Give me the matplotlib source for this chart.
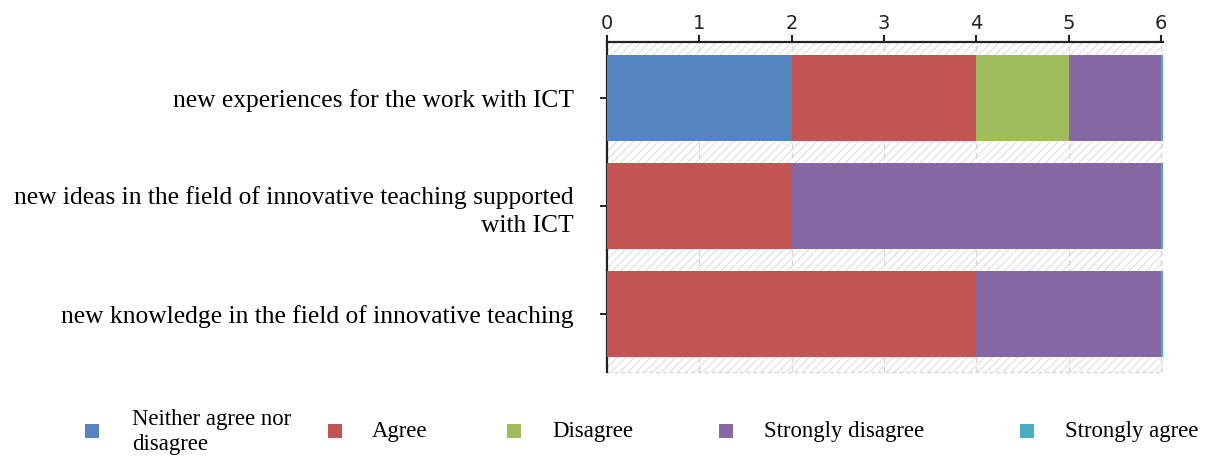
import matplotlib
matplotlib.use("Agg")
import matplotlib.pyplot as plt
from matplotlib.patches import Rectangle
import numpy as np

categories = [
    "new experiences for the work with ICT",
    "new ideas in the field of innovative teaching supported\nwith ICT",
    "new knowledge in the field of innovative teaching",
]
series_names = ["Neither agree nor\ndisagree", "Agree", "Disagree", "Strongly disagree", "Strongly agree"]
neither = [2, 0, 0]
agree = [2, 2, 4]
disagree = [1, 0, 0]
strongly_disagree = [1, 4, 2]
strongly_agree = [0.02, 0.02, 0.02]
x_ticks = [0, 1, 2, 3, 4, 5, 6]

colors = ["#5585c0", "#c25553", "#a0bd5e", "#8668a5", "#4bacc6"]
series = [neither, agree, disagree, strongly_disagree, strongly_agree]

fig = plt.figure(figsize=(12.10, 4.57), dpi=100)
ax = fig.add_axes([607/1210, 1 - 372/457, (1163-607)/1210, (372-42)/457])

# hatched background
bg = Rectangle((0, 0), 1, 1, transform=ax.transAxes, facecolor="white",
               edgecolor="#e4e4e4", hatch="////", linewidth=0, zorder=0)
ax.add_patch(bg)
ax.plot([0, 1], [0, 0], transform=ax.transAxes, color="#d8d8d8", lw=1, ls=(0, (3, 2)), zorder=0.5, clip_on=False)

y = np.arange(len(categories))
left = np.zeros(len(categories))
for vals, c in zip(series, colors):
    ax.barh(y, vals, left=left, height=0.8, color=c, zorder=3)
    left += np.array(vals, dtype=float)

ax.set_ylim(2.54, -0.52)
ax.set_xlim(0, 6.02)
ax.set_xticks(x_ticks)
ax.set_xticklabels([str(t) for t in x_ticks])
ax.xaxis.tick_top()
ax.tick_params(axis="x", direction="out", length=5, width=1.5, labelsize=14, pad=1.5, colors="#222222")
ax.set_yticks(y)
ax.set_yticklabels(categories, fontsize=18.4, family="Liberation Serif", linespacing=1.37)
ax.tick_params(axis="y", direction="out", length=5, width=1.2, pad=19)

for xv in x_ticks[1:]:
    ax.axvline(xv, color="#d6d6d6", lw=1, ls=(0, (4, 3)), zorder=1)

for s in ["right", "bottom"]:
    ax.spines[s].set_visible(False)
ax.spines["top"].set_linewidth(1.6)
ax.spines["top"].set_color("#222222")
ax.spines["left"].set_linewidth(1.6)
ax.spines["left"].set_color("#222222")
ax.patch.set_facecolor("white")

# legend drawn manually
sq_x = [92, 335, 514, 726, 1027]
txt_x = [132, 372, 552, 764, 1065]
for name, c, sx, tx in zip(series_names, colors, sq_x, txt_x):
    fig.patches.append(Rectangle(((sx - 7)/1210, 1 - 438/457), 14/1210, 14/457,
                                 transform=fig.transFigure, facecolor=c, edgecolor="none"))
    fig.text(tx/1210, 1 - 432/457, name, fontsize=16.4, family="Liberation Serif",
             va="center", ha="left", linespacing=1.25)

fig.savefig("out.png", dpi=100)
